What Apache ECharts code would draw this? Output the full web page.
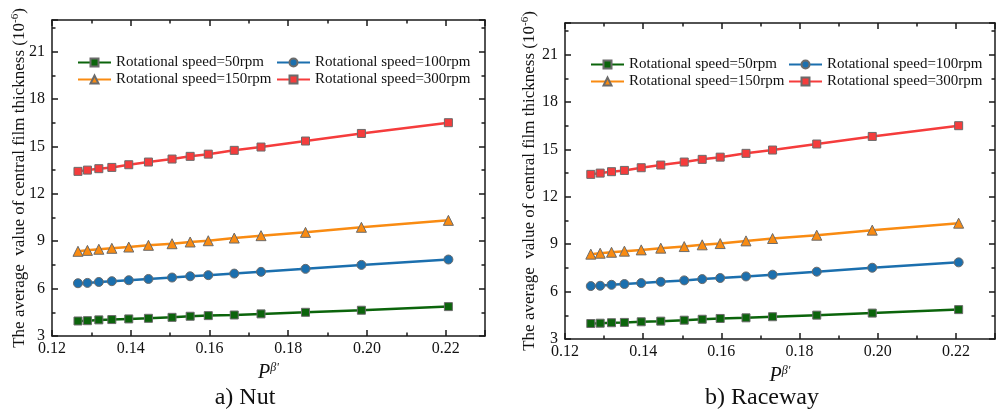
<!DOCTYPE html>
<html>
<head>
<meta charset="utf-8">
<script src="https://cdn.jsdelivr.net/npm/echarts@6/dist/echarts.min.js"></script>
<style>
html,body{margin:0;padding:0;background:#fff;}
#c{width:998px;height:413px;}
</style>
</head>
<body>
<div id="c"></div>
<script>
// ---- data ----
const pBeta = [0.1266, 0.1290, 0.1319, 0.1352, 0.1395, 0.1445, 0.1505, 0.1551, 0.1597, 0.1663, 0.1731, 0.1844, 0.1986, 0.2207];
const seriesNames = ['Rotational speed=50rpm', 'Rotational speed=100rpm', 'Rotational speed=150rpm', 'Rotational speed=300rpm'];
const nut50  = [3.95, 3.97, 4.02, 4.04, 4.08, 4.12, 4.18, 4.25, 4.29, 4.33, 4.40, 4.50, 4.63, 4.86];
const nut100 = [6.34, 6.36, 6.42, 6.47, 6.53, 6.61, 6.70, 6.78, 6.85, 6.95, 7.06, 7.25, 7.50, 7.84];
const nut150 = [8.36, 8.42, 8.49, 8.55, 8.63, 8.74, 8.84, 8.95, 9.03, 9.20, 9.35, 9.56, 9.88, 10.32];
const nut300 = [13.42, 13.50, 13.59, 13.67, 13.84, 14.01, 14.20, 14.37, 14.51, 14.75, 14.96, 15.34, 15.82, 16.50];
const race50  = [3.98, 4.00, 4.03, 4.05, 4.09, 4.13, 4.19, 4.25, 4.30, 4.34, 4.41, 4.51, 4.64, 4.86];
const race100 = [6.35, 6.37, 6.43, 6.48, 6.54, 6.62, 6.71, 6.79, 6.86, 6.96, 7.07, 7.26, 7.51, 7.85];
const race150 = [8.37, 8.43, 8.49, 8.56, 8.64, 8.75, 8.85, 8.96, 9.04, 9.21, 9.36, 9.57, 9.89, 10.33];
const race300 = [13.42, 13.50, 13.59, 13.67, 13.84, 14.01, 14.20, 14.37, 14.51, 14.75, 14.96, 15.34, 15.82, 16.50];
const xTicks = {min: 0.12, max: 0.23, major: 0.02, minor: 0.01};
const yTicks = {min: 3, max: 23, major: 3, minor: 1.5};
const panelTitles = ['a) Nut', 'b) Raceway'];

// ---- styles ----
const FONT = '"Liberation Serif", "Times New Roman", serif';
const colors = ['#0b640b', '#1b6fae', '#f98b12', '#f53c3c'];
const symbols = ['rect', 'circle', 'triangle', 'rect'];
const symSizes = [8, 9, 10, 8];
const axisLS = {color: '#1a1a1a', width: 1.5};
const legendText = {fontSize: 15, fontFamily: FONT, color: '#111'};

function xAxesFor(g) {
  const base = {gridIndex: g, type: 'value', min: xTicks.min, max: xTicks.max, splitLine: {show: false}};
  return [
    Object.assign({}, base, {
      position: 'bottom', interval: xTicks.major,
      axisLine: {show: true, onZero: false, lineStyle: axisLS},
      axisTick: {show: true, inside: true, length: 6, lineStyle: axisLS},
      axisLabel: {show: true, margin: 5, color: '#111', fontSize: 16, fontFamily: FONT,
        formatter: v => Math.abs(v - xTicks.max) < 1e-9 ? '' : v.toFixed(2)},
      name: '{p|P}{s|β\'}', nameLocation: 'middle', nameGap: 26,
      nameTextStyle: {rich: {
        p: {fontSize: 20, fontStyle: 'italic', fontFamily: FONT, color: '#111', lineHeight: 22},
        s: {fontSize: 12, fontStyle: 'italic', fontFamily: FONT, color: '#111', verticalAlign: 'top', lineHeight: 12}
      }}
    }),
    Object.assign({}, base, {
      position: 'bottom', interval: xTicks.minor,
      axisLine: {show: false, onZero: false},
      axisTick: {show: true, inside: true, length: 3.5, lineStyle: axisLS},
      axisLabel: {show: false}
    }),
    Object.assign({}, base, {
      position: 'top', interval: xTicks.major,
      axisLine: {show: true, onZero: false, lineStyle: axisLS},
      axisTick: {show: true, inside: true, length: 6, lineStyle: axisLS},
      axisLabel: {show: false}
    }),
    Object.assign({}, base, {
      position: 'top', interval: xTicks.minor,
      axisLine: {show: false, onZero: false},
      axisTick: {show: true, inside: true, length: 3.5, lineStyle: axisLS},
      axisLabel: {show: false}
    })
  ];
}
function yAxesFor(g, gap) {
  const base = {gridIndex: g, type: 'value', min: yTicks.min, max: yTicks.max, splitLine: {show: false}};
  return [
    Object.assign({}, base, {
      position: 'left', interval: yTicks.major,
      axisLine: {show: true, onZero: false, lineStyle: axisLS},
      axisTick: {show: true, inside: true, length: 6, lineStyle: axisLS},
      axisLabel: {show: true, margin: 7, color: '#111', fontSize: 16, fontFamily: FONT,
        formatter: v => v === yTicks.max ? '' : String(v)},
      name: '{a|The average  value of central film thickness (10}{s|-6}{a|)}',
      nameLocation: 'middle', nameGap: gap, nameMoveOverlap: false,
      nameTextStyle: {rich: {
        a: {fontSize: 17, fontFamily: FONT, color: '#111', lineHeight: 20},
        s: {fontSize: 11, fontFamily: FONT, color: '#111', verticalAlign: 'top', lineHeight: 12}
      }}
    }),
    Object.assign({}, base, {
      position: 'left', interval: yTicks.minor,
      axisLine: {show: false, onZero: false},
      axisTick: {show: true, inside: true, length: 3.5, lineStyle: axisLS},
      axisLabel: {show: false}
    }),
    Object.assign({}, base, {
      position: 'right', interval: yTicks.major,
      axisLine: {show: true, onZero: false, lineStyle: axisLS},
      axisTick: {show: true, inside: true, length: 6, lineStyle: axisLS},
      axisLabel: {show: false}
    }),
    Object.assign({}, base, {
      position: 'right', interval: yTicks.minor,
      axisLine: {show: false, onZero: false},
      axisTick: {show: true, inside: true, length: 3.5, lineStyle: axisLS},
      axisLabel: {show: false}
    })
  ];
}

function mkSeries(values, idx, axisIdx) {
  return {
    name: seriesNames[idx], type: 'line',
    xAxisIndex: axisIdx, yAxisIndex: axisIdx,
    data: pBeta.map((x, i) => [x, values[i]]),
    symbol: symbols[idx], symbolSize: symSizes[idx], showSymbol: true,
    lineStyle: {color: colors[idx], width: 2.5},
    itemStyle: {color: colors[idx], borderColor: '#6b6b6b', borderWidth: 1},
    emphasis: {disabled: true},
    z: 3 + idx
  };
}

function legendAt(names, left, top) {
  return {
    data: names.map(n => ({name: n, textStyle: legendText})),
    orient: 'vertical', left: left, top: top,
    itemWidth: 33, itemHeight: 10, itemGap: 2,
    textStyle: legendText,
    selectedMode: false, padding: 0
  };
}

const chart = echarts.init(document.getElementById('c'), null, {renderer: 'canvas'});
chart.setOption({
  animation: false,
  backgroundColor: '#fff',
  grid: [
    {left: 52, top: 20, width: 433, height: 316},
    {left: 565, top: 23, width: 432, height: 316}
  ],
  xAxis: xAxesFor(0).concat(xAxesFor(1)),
  yAxis: yAxesFor(0, 22).concat(yAxesFor(1, 25)),
  legend: [
    legendAt([seriesNames[0], seriesNames[2]], 77, 55),
    legendAt([seriesNames[1], seriesNames[3]], 276, 55),
    legendAt([seriesNames[0], seriesNames[2]], 590, 57),
    legendAt([seriesNames[1], seriesNames[3]], 788, 57)
  ],
  series: [
    mkSeries(nut50, 0, 0), mkSeries(nut100, 1, 0), mkSeries(nut150, 2, 0), mkSeries(nut300, 3, 0),
    mkSeries(race50, 0, 4), mkSeries(race100, 1, 4), mkSeries(race150, 2, 4), mkSeries(race300, 3, 4)
  ],
  graphic: [
    {type: 'text', x: 245, y: 398, style: {text: panelTitles[0], fontSize: 24, fontFamily: FONT, fill: '#111', align: 'center', verticalAlign: 'middle'}},
    {type: 'text', x: 762, y: 398, style: {text: panelTitles[1], fontSize: 24, fontFamily: FONT, fill: '#111', align: 'center', verticalAlign: 'middle'}}
  ]
});
</script>
</body>
</html>
